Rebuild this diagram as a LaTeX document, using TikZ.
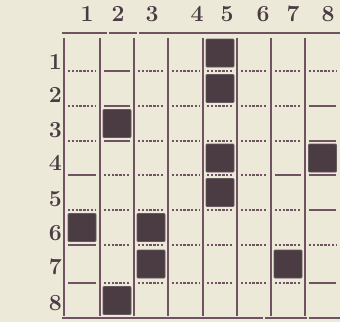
\documentclass[tikz,border=0pt]{standalone}
\definecolor{paper}{RGB}{236,233,217}
\definecolor{ink}{RGB}{112,82,98}
\definecolor{inkdark}{RGB}{74,60,66}
\tikzset{
	rule/.style={draw=ink, line width=2.6pt},
	colline/.style={draw=ink, line width=1.4pt},
	sepsolid/.style={draw=ink, line width=1.4pt},
	sepdash/.style={draw=ink, line width=1.4pt, dash pattern=on 2.4pt off 1.4pt},
	darkcell/.style={rectangle, fill=inkdark, draw=inkdark!85, line width=0.8pt, rounded corners=1pt, minimum size=28pt, inner sep=0pt},
	numlabel/.style={font=\fontsize{23}{23}\selectfont\bfseries, text=inkdark, inner sep=0pt},
}
\def\colbounds{{64,100,134,168,203,237,271,305,340}}
\def\rowbounds{{35,71,106,141,175,210,245,283,318}}

\begin{document}
\begin{tikzpicture}[x=1pt, y=-1pt]
		\fill[paper] (0,0) rectangle (340,322);
		\useasboundingbox (0,0) rectangle (340,322);
		% column and row numbers
		\foreach \c/\xc in {1/87,2/118,3/152,4/197,5/227,6/263,7/293,8/328}
			\node[numlabel] (col\c) at (\xc,14) {\c};
		\foreach \r/\yr in {1/62,2/95,3/130,4/163,5/199,6/233,7/267,8/303}
			\node[numlabel, anchor=east] (row\r) at (62,\yr) {\r};
		% heavy rules top and bottom
		\foreach \xa/\xb in {62/107,109/137,139/340}
			\draw[rule] (\xa,33) -- (\xb,33);
		\foreach \xa/\xb in {62/263,265/307,309/340}
			\draw[rule] (\xa,318) -- (\xb,318);
		% column lines
		\draw[colline, line width=2.2pt] (64,38) -- (64,316);
		\foreach \xc in {100,134,168,203,237,271,305}
			\draw[colline] (\xc,38) -- (\xc,316);
		% row separators in each column
		\foreach \b/\cols in {
			1/{1/sepdash,2/sepsolid,3/sepdash,4/sepdash,5/sepdash,6/sepdash,7/sepdash,8/sepdash},
			2/{1/sepdash,2/sepsolid,3/sepdash,4/sepdash,5/sepdash,6/sepdash,7/sepdash,8/sepsolid},
			3/{1/sepdash,2/sepsolid,3/sepdash,4/sepdash,5/sepdash,6/sepdash,7/sepdash,8/sepsolid},
			4/{1/sepsolid,2/sepdash,3/sepdash,4/sepdash,5/sepdash,6/sepdash,7/sepsolid,8/sepsolid},
			5/{1/sepdash,2/sepdash,3/sepdash,4/sepdash,5/sepdash,6/sepdash,7/sepdash,8/sepsolid},
			6/{1/sepsolid,2/sepdash,3/sepdash,4/sepdash,5/sepdash,6/sepdash,7/sepdash,8/sepdash},
			7/{1/sepsolid,2/sepdash,3/sepdash,4/sepdash,5/sepdash,6/sepdash,7/sepdash,8/sepsolid}}
		{
			\pgfmathsetmacro\ys{\rowbounds[\b]}
			\foreach \c/\st in \cols {
				\pgfmathsetmacro\xa{\colbounds[\c-1]+4}
				\pgfmathsetmacro\xb{\colbounds[\c]-4}
				\draw[\st] (\xa,\ys) -- (\xb,\ys);
			}
		}
		% filled cells
		\foreach \c/\r in {5/1,5/2,2/3,5/4,8/4,5/5,1/6,3/6,3/7,7/7,2/8} {
			\pgfmathsetmacro\xa{\colbounds[\c-1]}
			\pgfmathsetmacro\xb{\colbounds[\c]}
			\pgfmathsetmacro\ya{\rowbounds[\r-1]}
			\pgfmathsetmacro\yb{\rowbounds[\r]}
			\node[darkcell] (cell\c\r) at ({(\xa+\xb)/2},{(\ya+\yb)/2}) {};
		}
	\end{tikzpicture}
\end{document}
